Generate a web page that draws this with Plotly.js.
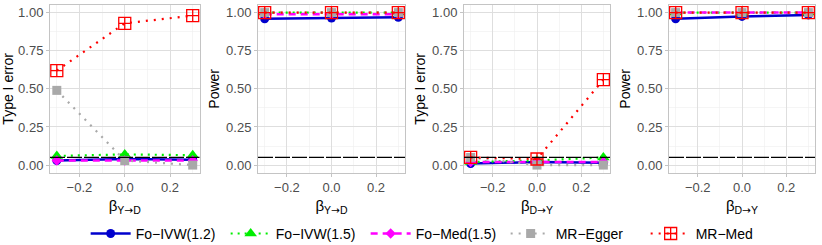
<!DOCTYPE html>
<html><head><meta charset="utf-8">
<script src="https://cdn.plot.ly/plotly-3.0.1.min.js"></script>
<style>html,body{margin:0;padding:0;background:#fff}#chart{width:822px;height:245px}</style>
</head><body><div id="chart"></div>
<script>
// ---- data ----
const betaVals = [-0.3, 0, 0.3];
const seriesNames = ["Fo−IVW(1.2)", "Fo−IVW(1.5)", "Fo−Med(1.5)", "MR−Egger", "MR−Med"];
const panelYTitles = ["Type I error", "Power", "Type I error", "Power"];
const arrow = "<span style='font-family:DejaVu Sans'>→</span>";
const panelXTitles = ["β<sub>Y" + arrow + "D</sub>", "β<sub>Y" + arrow + "D</sub>", "β<sub>D" + arrow + "Y</sub>", "β<sub>D" + arrow + "Y</sub>"];
const alphaLevel = 0.05;
// panel 1: Type I error vs beta Y->D
const p1_ivw12 = [0.03, 0.04, 0.035];
const p1_ivw15 = [0.06, 0.07, 0.065];
const p1_med15 = [0.03, 0.03, 0.03];
const p1_egger = [0.49, 0.03, 0.00];
const p1_mrmed = [0.62, 0.93, 0.98];
// panel 2: Power vs beta Y->D
const p2_ivw12 = [0.96, 0.965, 0.97];
const p2_ivw15 = [1.0, 1.0, 1.0];
const p2_med15 = [0.99, 0.99, 0.99];
const p2_egger = [1.0, 1.0, 1.0];
const p2_mrmed = [1.0, 1.0, 1.0];
// panel 3: Type I error vs beta D->Y
const p3_ivw12 = [0.01, 0.02, 0.015];
const p3_ivw15 = [0.02, 0.03, 0.05];
const p3_med15 = [0.02, 0.02, 0.02];
const p3_egger = [0.05, 0.00, 0.00];
const p3_mrmed = [0.05, 0.04, 0.56];
// panel 4: Power vs beta D->Y
const p4_ivw12 = [0.96, 0.975, 0.985];
const p4_ivw15 = [1.0, 1.0, 1.0];
const p4_med15 = [1.0, 1.0, 1.0];
const p4_egger = [1.0, 1.0, 1.0];
const p4_mrmed = [1.0, 1.0, 1.0];

const panels = [
  [p1_ivw12, p1_ivw15, p1_med15, p1_egger, p1_mrmed],
  [p2_ivw12, p2_ivw15, p2_med15, p2_egger, p2_mrmed],
  [p3_ivw12, p3_ivw15, p3_med15, p3_egger, p3_mrmed],
  [p4_ivw12, p4_ivw15, p4_med15, p4_egger, p4_mrmed]
];

// ---- styles ----
const styles = [
  {color: "#0000CD", dash: "solid", width: 2.5, symbol: "circle", msize: 9},
  {color: "#00EE00", dash: "2px,5px", width: 2.2, symbol: "triangle-up", msize: 11},
  {color: "#FF00FF", dash: "7px,5px", width: 2.5, symbol: "diamond", msize: 8},
  {color: "#A9A9A9", dash: "2px,6px", width: 2.2, symbol: "square", msize: 9},
  {color: "#FF0000", dash: "2px,6px", width: 2.2, symbol: "square-cross-open", msize: 12}
];

const W = 822, H = 245;
const xPix = [[50, 199.5], [258, 405], [464, 610], [669, 815]];
const yDom = [(H - 172.7) / H, (H - 5) / H];

const traces = [];
panels.forEach((pdata, pi) => {
  const ax = pi === 0 ? "" : String(pi + 1);
  pdata.forEach((vals, si) => {
    const s = styles[si];
    traces.push({
      type: "scatter", mode: "lines+markers",
      x: betaVals, y: vals,
      xaxis: "x" + ax, yaxis: "y" + ax,
      name: seriesNames[si], legendgroup: seriesNames[si], showlegend: pi === 0,
      line: {color: s.color, dash: s.dash, width: s.width},
      marker: {color: s.color, symbol: s.symbol, size: s.msize, line: {color: s.color, width: s.symbol.endsWith("open") ? 1.3 : 0}},
      cliponaxis: false
    });
  });
});

const layout = {
  width: W, height: H,
  margin: {l: 0, r: 0, t: 0, b: 0, autoexpand: false},
  paper_bgcolor: "#fff", plot_bgcolor: "#fff",
  font: {family: "Liberation Sans, Arial, sans-serif", size: 13, color: "#000"},
  showlegend: true,
  legend: {orientation: "h", x: 0.53, xanchor: "center", y: -0.02, yanchor: "bottom",
           font: {size: 14, color: "#000"}, itemwidth: 40, tracegroupgap: 0,
           entrywidth: 85, entrywidthmode: "pixels"},
  shapes: []
};

xPix.forEach((xp, pi) => {
  const ax = pi === 0 ? "" : String(pi + 1);
  layout["xaxis" + ax] = {
    domain: [xp[0] / W, xp[1] / W], anchor: "y" + ax, automargin: false,
    range: [-0.33, 0.33], tickvals: [-0.2, 0, 0.2], tickformat: ".1f",
    showgrid: true, gridcolor: "#dedede", gridwidth: 1,
    minor: {tickvals: [-0.3, -0.1, 0.1, 0.3], showgrid: true, gridcolor: "#eeeeee", gridwidth: 0.6},
    zeroline: false, showline: true, mirror: true, linecolor: "#c4c4c4", linewidth: 1,
    ticks: "outside", ticklen: 3, tickcolor: "#c4c4c4",
    tickfont: {size: 13, color: "#4d4d4d"},
    title: {text: panelXTitles[pi], font: {size: 15, color: "#000"}, standoff: 6}
  };
  layout["yaxis" + ax] = {
    domain: yDom, anchor: "x" + ax, automargin: false,
    range: [-0.05, 1.05], tickvals: [0, 0.25, 0.5, 0.75, 1], tickformat: ".2f",
    showgrid: true, gridcolor: "#dedede", gridwidth: 1,
    minor: {tickvals: [0.125, 0.375, 0.625, 0.875], showgrid: true, gridcolor: "#eeeeee", gridwidth: 0.6},
    zeroline: false, showline: true, mirror: true, linecolor: "#c4c4c4", linewidth: 1,
    ticks: "outside", ticklen: 3, tickcolor: "#c4c4c4",
    tickfont: {size: 13, color: "#4d4d4d"},
    title: {text: panelYTitles[pi], font: {size: 14, color: "#000"}, standoff: 3}
  };
  layout.shapes.push({
    type: "line", xref: "x" + ax + " domain", x0: 0, x1: 1,
    yref: "y" + ax, y0: alphaLevel, y1: alphaLevel,
    line: {color: "#000", width: 1.3, dash: "15px,2px"}, layer: "above"
  });
});

Plotly.newPlot("chart", traces, layout, {displayModeBar: false, staticPlot: true});
</script>
</body></html>
